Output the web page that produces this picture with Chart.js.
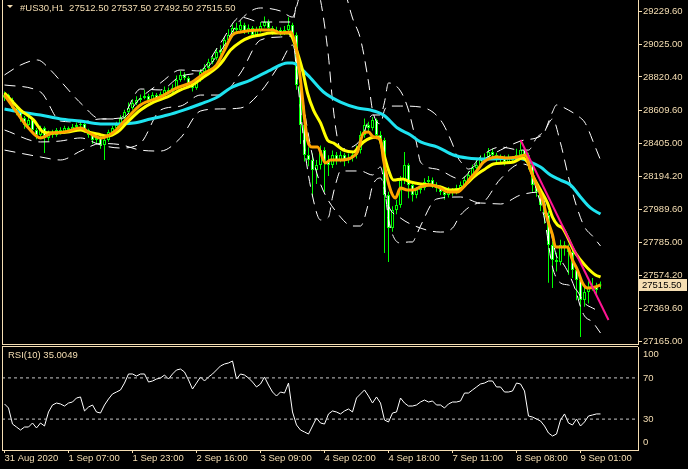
<!DOCTYPE html>
<html><head><meta charset="utf-8">
<script src="https://cdn.jsdelivr.net/npm/chart.js@4/dist/chart.umd.min.js"></script>
<style>
html,body{margin:0;padding:0;background:#000;overflow:hidden;}
#wrap{position:relative;width:688px;height:469px;background:#000;}
canvas{display:block;}
</style></head><body>
<div id="wrap">
<div style="position:absolute;left:0;top:0;width:688px;height:346px"><canvas id="main" width="688" height="346"></canvas></div>
<div style="position:absolute;left:0;top:346px;width:688px;height:123px"><canvas id="rsi" width="688" height="123"></canvas></div>
</div>
<script>
// ---------------- DATA ----------------
const symbolTitle = '#US30,H1';
const lastOHLC = [27512.50, 27537.50, 27492.50, 27515.50];
const rsiTitle = 'RSI(10) 35.0049';

const xTickBars = [0,16,32,48,64,80,96,112,128,144];
const xTickLabels = ['31 Aug 2020','1 Sep 07:00','1 Sep 23:00','2 Sep 16:00','3 Sep 09:00','4 Sep 02:00','4 Sep 18:00','7 Sep 11:00','8 Sep 08:00','9 Sep 01:00'];
const priceTicks = [29229.60,29025.00,28820.40,28609.60,28405.00,28194.20,27989.60,27785.00,27574.20,27369.60,27165.00];
const rsiLevels = [100,70,30,0];

const opens = [28690,28707,28676,28626,28601,28563,28519,28551,28488,28457, 28500,28438,28469,28457,28488,28475,28500,28488,28507,28519, 28526,28488,28457,28425,28438,28394,28425,28475,28500,28519, 28563,28601,28626,28657,28676,28689,28701,28676,28707,28689, 28714,28739,28726,28751,28801,28833,28814,28770,28751,28801, 28852,28877,28914,28939,28977,28990,29052,29084,29127,29115, 29146,29102,29127,29084,29115,29140,29165,29127,29102,29115, 29096,29115,29146,29084,28770,28519,28331,28300,28237,28268, 28362,28287,28268,28331,28300,28331,28300,28312,28331,28362, 28457,28519,28500,28551,28457,28425,28080,27873,27986,28018, 28174,28268,28143,28080,28112,28124,28162,28174,28143,28124, 28099,28080,28112,28099,28124,28143,28174,28206,28250,28268, 28300,28312,28350,28331,28300,28312,28287,28312,28300,28331, 28362,28331,28268,28143,28099,28018,27955,27767,27673,27660, 27767,27748,27723,27610,27547,27422,27472,27497,27510,27512.5];
const highs = [28730,28715,28690,28640,28615,28575,28570,28560,28500,28515, 28510,28485,28490,28500,28505,28515,28510,28525,28535,28545, 28535,28495,28470,28455,28450,28440,28490,28515,28540,28580, 28615,28660,28680,28700,28710,28740,28715,28725,28720,28730, 28760,28755,28775,28830,28860,28850,28825,28790,28815,28870, 28900,28935,28960,29000,29020,29075,29120,29150,29160,29175, 29160,29150,29140,29135,29165,29200,29180,29140,29135,29130, 29140,29195,29160,29100,28800,28560,28380,28340,28300,28390, 28380,28330,28360,28350,28355,28345,28340,28350,28390,28480, 28560,28540,28570,28560,28480,28440,28100,28010,28050,28200, 28350,28280,28160,28130,28150,28185,28200,28190,28160,28140, 28120,28130,28125,28145,28165,28200,28230,28270,28300,28330, 28340,28375,28370,28345,28335,28330,28335,28325,28370,28420, 28380,28345,28280,28170,28120,28040,27980,27790,27720,27800, 27790,27770,27740,27630,27560,27500,27540,27560,27530,27537.5];
const lows = [28670,28660,28610,28580,28540,28495,28505,28470,28430,28440, 28344,28420,28440,28445,28460,28465,28470,28478,28495,28500, 28470,28440,28400,28405,28370,28300,28415,28462,28490,28510, 28550,28590,28615,28645,28660,28680,28660,28665,28670,28680, 28700,28710,28715,28740,28790,28800,28750,28730,28740,28790, 28840,28865,28900,28925,28960,28980,29040,29070,29095,29100, 29090,29090,29070,29075,29100,29130,29110,29085,29090,29080, 29085,29105,29050,28740,28400,28290,28260,28068,28150,28240, 28100,28200,28250,28270,28285,28260,28280,28290,28310,28340, 28440,28470,28485,28430,28390,27717,27660,27850,27960,28000, 28150,28060,28040,28060,28090,28110,28140,28125,28100,28080, 28050,28065,28075,28085,28110,28130,28160,28195,28235,28255, 28285,28300,28310,28280,28285,28265,28275,28280,28290,28320, 28310,28240,28100,28070,27980,27900,27530,27497,27600,27640, 27700,27580,27560,27420,27190,27380,27400,27480,27460,27492.5];
const closes = [28707,28676,28626,28601,28563,28519,28551,28488,28457,28500, 28438,28469,28457,28488,28475,28500,28488,28507,28519,28526, 28488,28457,28425,28438,28394,28425,28475,28500,28519,28563, 28601,28626,28657,28676,28689,28701,28676,28707,28689,28714, 28739,28726,28751,28801,28833,28814,28770,28751,28801,28852, 28877,28914,28939,28977,28990,29052,29084,29127,29115,29146, 29102,29127,29084,29115,29140,29165,29127,29102,29115,29096, 29115,29146,29084,28770,28519,28331,28300,28237,28268,28362, 28287,28268,28331,28300,28331,28300,28312,28331,28362,28457, 28519,28500,28551,28457,28425,28080,27873,27986,28018,28174, 28268,28143,28080,28112,28124,28162,28174,28143,28124,28099, 28080,28112,28099,28124,28143,28174,28206,28250,28268,28300, 28312,28350,28331,28300,28312,28287,28312,28300,28331,28362, 28331,28268,28143,28099,28018,27955,27767,27673,27660,27767, 27748,27723,27610,27547,27422,27472,27497,27510,27485,27515.5];

// indicator lines: [bar index, price]
const maFast = [[0,28707],[3,28601],[6,28500],[9,28438],[12,28469],[15,28475],[19,28500],[22,28457],[24,28438],[27,28469],[30,28544],[34,28645],[39,28695],[43,28751],[46.5,28783],[50,28845],[53,28895],[55,28990],[57,29084],[59,29102],[64,29115],[67,29115],[69,29096],[71.5,29102],[73,28990],[74,28801],[75.75,28425],[77,28381],[78.25,28381],[80.25,28281],[81.5,28300],[84,28300],[86.5,28312],[88.25,28350],[89.75,28469],[91,28475],[92.25,28444],[94,28425],[94.75,28300],[96.5,28112],[97.75,28062],[99,28124],[100.75,28112],[102.25,28112],[104,28131],[106.5,28143],[109,28124],[110.75,28099],[113.25,28099],[114.75,28131],[116.5,28187],[118.25,28237],[119.75,28287],[121.5,28312],[123.25,28319],[125.75,28312],[128.25,28319],[130.25,28331],[131.5,28237],[133.25,28131],[134.5,28049],[135.75,27924],[137,27830],[137.75,27754],[140.75,27754],[142,27673],[143.25,27610],[144.5,27529],[145.75,27497],[147.75,27504],[149,27516]];
const maMid = [[0,28720],[4,28613],[7.25,28551],[9.75,28475],[12.25,28469],[15.75,28475],[19,28488],[20.75,28475],[23.25,28463],[25.75,28450],[28.25,28475],[30.75,28538],[34,28613],[37.25,28663],[40.75,28695],[44,28739],[47,28770],[49.75,28820],[53.25,28883],[54.75,28927],[56.5,28990],[59,29040],[61.5,29071],[64,29084],[66.5,29096],[69,29096],[71,29096],[72,29065],[73.25,28971],[74.5,28864],[75.75,28720],[77.25,28613],[79,28532],[80.75,28425],[82.25,28406],[84.75,28362],[87.25,28350],[88.5,28381],[89.75,28413],[91.5,28438],[93.5,28444],[94.75,28344],[96,28237],[97.25,28174],[99.5,28181],[101.5,28162],[104,28149],[106.5,28143],[109,28131],[111.5,28112],[114,28118],[115.75,28156],[117.25,28193],[119.75,28237],[122.25,28275],[124.75,28281],[127.25,28287],[129.5,28312],[130.75,28287],[132.25,28193],[134,28112],[135.75,28030],[137,27942],[138.25,27892],[139.5,27873],[140.75,27817],[142.25,27735],[144,27673],[145.75,27623],[147.75,27579],[149,27566]];
const maSlow = [[0,28620],[4,28601],[9,28582],[14,28557],[19,28544],[24,28526],[26.5,28526],[32.25,28532],[36.5,28557],[40.75,28582],[44.75,28613],[49,28651],[53.25,28695],[56.5,28751],[61.5,28801],[66.5,28864],[70.75,28908],[72,28908],[75.75,28833],[79.75,28726],[84,28663],[88.25,28626],[91.5,28613],[94.75,28582],[98.25,28500],[101.5,28457],[104,28413],[108.25,28381],[112.25,28331],[115.75,28312],[120.75,28306],[128.25,28312],[131.5,28287],[134,28256],[136.5,28206],[139,28174],[141.5,28143],[144,28068],[146.5,27999],[149,27961]];

const bandWideUpper = [[0,28833],[4,28895],[8.25,28927],[11.5,28864],[14,28795],[19.5,28645],[24,28557],[29,28557],[34,28689],[39,28783],[44,28864],[49,28858],[54,28983],[59,29178],[64,29253],[69,29234],[72,29196],[73,29259],[74,29359],[75,29460],[77,29579],[79,29579],[84,29447],[87,29190],[89,29058],[91,28789],[92,28613],[94,28526],[95,28613],[96,28638],[99,28638],[104,28632],[109,28551],[112,28400],[113,28331],[115,28262],[116,28243],[119,28293],[124,28362],[129,28419],[134,28450],[135,28475],[136,28538],[137,28601],[138,28645],[139,28638],[141,28613],[143,28582],[145,28538],[146,28488],[147,28425],[148,28362],[149,28300]];
const bandWideLower = [[0,28362],[9,28319],[14,28300],[19.5,28362],[24,28403],[29,28396],[34,28362],[39,28356],[44,28438],[49,28607],[54,28620],[59,28626],[64,28726],[69,28908],[72,29021],[73,28933],[74,28776],[75,28607],[77,28325],[79,28149],[84,27942],[87,27886],[89,27886],[91,28030],[92,28137],[94,28187],[96,28011],[99,27936],[104,27873],[109,27848],[112,27873],[114,27955],[119,28030],[124,28024],[129,28080],[134,28099],[135,28036],[136,27924],[137,27804],[138,27698],[139,27673],[141,27591],[143,27466],[144,27378],[145,27322],[147,27284],[149,27215]];
const bandNarrowUpper = [[0,28770],[9,28726],[14,28544],[19,28538],[24,28557],[29,28563],[34,28745],[39,28739],[44,28826],[49,28858],[54,29033],[59,29196],[64,29165],[69,29165],[72,29165],[73,29284],[74,29428],[75,29504],[77,29479],[79,29303],[81,28946],[82,28670],[83,28469],[84,28369],[89,28425],[92,28582],[94,28582],[95,28663],[96,28783],[99,28732],[101,28613],[102,28513],[103,28406],[104,28287],[108,28243],[114,28181],[119,28319],[124,28381],[129,28362],[131,28362],[133,28438],[135,28482],[137,28557],[139,28406],[141,28193],[143,28011],[145,27880],[147,27823],[149,27761]];
const bandNarrowLower = [[0,28488],[9,28413],[14,28419],[19,28438],[24,28394],[29,28375],[34,28406],[39,28613],[44,28638],[49,28707],[54,28707],[59,28845],[64,29052],[69,29071],[72,29077],[73,28858],[74,28620],[75,28375],[77,28074],[79,27924],[81,27942],[82,28068],[83,28168],[84,28231],[89,28231],[92,28206],[94,28256],[95,28137],[96,27930],[99,27779],[101,27786],[102,27786],[103,27830],[104,27886],[108,28055],[114,28068],[119,28030],[124,28181],[129,28275],[131,28262],[133,28112],[135,27930],[137,27629],[139,27529],[141,27516],[143,27484],[145,27403],[147,27372],[149,27347]];
const trendLine = [[129,28425],[151,27297]];

const rsiValues = [44.7,40.8,25.2,22.3,19.4,22.3,22.3,26.2,21.4,26.2, 23.3,36.9,43.7,45.6,44.7,42.7,45.6,46.6,50.5,51.5, 37.9,41.7,43.7,36.9,35.9,43.7,49.5,54.4,56.3,58.3, 65.0,73.8,73.8,71.8,73.8,73.8,66.0,67.0,68.9,69.9, 72.8,68.9,73.8,77.7,78.6,75.7,68.0,59.2,65.0,70.9, 67.0,70.9,73.8,77.7,81.6,83.5,84.5,86.4,68.9,73.8, 72.8,69.9,66.0,61.2,64.1,70.9,63.1,56.3,52.4,56.3, 55.3,65.0,36.9,24.3,19.4,17.5,15.5,23.3,31.1,26.2, 25.2,35.0,37.9,36.9,35.0,37.9,39.8,36.9,50.5,54.4, 58.3,52.4,45.6,51.5,45.6,29.1,27.2,35.9,36.9,50.5, 45.6,42.7,42.7,43.7,46.6,48.5,46.6,47.6,43.7,43.7, 40.8,44.7,46.6,46.6,47.6,55.3,55.3,58.3,61.2,64.1, 65.0,67.0,67.0,61.2,61.2,56.3,56.3,57.3,65.0,64.1, 57.3,33.0,32.0,30.1,28.2,23.3,16.5,13.6,15.5,29.1, 35.0,26.2,24.3,30.1,23.3,27.2,33.0,34.0,35.0,35.0049];

// ---------------- STYLE ----------------
const FG = '#f5deb3';
const FONTFAM = "'Liberation Sans', Arial, sans-serif";
const FONT = {family: FONTFAM, size: 9.5};
const X_MIN = -0.625, X_MAX = 158.375;
Chart.defaults.font.family = FONTFAM;
Chart.defaults.animation = false;

const toPts = arr => arr.map(p => ({x: p[0], y: p[1]}));
const bandStyle = { type: 'line', borderColor: '#ffffff', borderWidth: 1, borderDash: [11,7], pointRadius: 0, cubicInterpolationMode: 'monotone', order: 15 };

const framePlugin = {
  id: 'frame',
  afterDraw(chart, args, opts) {
    const {ctx, chartArea: a} = chart;
    ctx.save();
    ctx.strokeStyle = FG; ctx.lineWidth = 1;
    ctx.beginPath();
    ctx.moveTo(Math.round(a.left) + 0.5, 0);
    ctx.lineTo(Math.round(a.left) + 0.5, Math.round(a.bottom) + 0.5);
    if (opts.bottom) { ctx.moveTo(Math.round(a.left), Math.round(a.bottom) + 0.5); ctx.lineTo(Math.round(a.right), Math.round(a.bottom) + 0.5); }
    if (opts.top) { ctx.moveTo(Math.round(a.left), 0.5); ctx.lineTo(Math.round(a.right), 0.5); }
    ctx.stroke();
    ctx.restore();
  }
};

const mainTextPlugin = {
  id: 'mainText',
  afterDraw(chart) {
    const {ctx} = chart;
    ctx.save();
    ctx.fillStyle = FG;
    ctx.beginPath(); ctx.moveTo(7,5); ctx.lineTo(13,5); ctx.lineTo(10,8); ctx.closePath(); ctx.fill();
    ctx.font = '9.5px ' + FONTFAM;
    ctx.textBaseline = 'middle';
    ctx.fillText(symbolTitle + '  ' + lastOHLC.map(v => v.toFixed(2)).join(' '), 20, 8);
    const ys = chart.scales.y;
    const last = closes[closes.length - 1];
    const py = Math.round(ys.getPixelForValue(last));
    ctx.fillStyle = FG;
    ctx.fillRect(639, py - 6, 48, 12);
    ctx.fillStyle = '#000';
    ctx.fillText(last.toFixed(2), 642, py);
    ctx.restore();
  }
};

const bodyColors = closes.map((c, i) => c >= opens[i] ? '#000000' : '#ffffff');

new Chart(document.getElementById('main'), {
  type: 'bar',
  data: {
    datasets: [
      { type: 'bar', data: closes.map((c, i) => ({x: i, y: [lows[i], highs[i]]})), backgroundColor: '#00ff00', borderWidth: 0, barThickness: 1, grouped: false, order: 20, inflateAmount: 0 },
      { type: 'bar', data: closes.map((c, i) => ({x: i, y: [opens[i], c]})), backgroundColor: bodyColors, borderColor: '#00ff00', borderWidth: 1, borderSkipped: false, barThickness: 3, grouped: false, minBarLength: 1, order: 19, inflateAmount: 0 },
      Object.assign({ data: toPts(bandWideUpper) }, bandStyle),
      Object.assign({ data: toPts(bandWideLower) }, bandStyle),
      Object.assign({ data: toPts(bandNarrowUpper) }, bandStyle),
      Object.assign({ data: toPts(bandNarrowLower) }, bandStyle),
      { type: 'line', data: toPts(maSlow), borderColor: '#1ee3f0', borderWidth: 3, pointRadius: 0, cubicInterpolationMode: 'monotone', order: 6 },
      { type: 'line', data: toPts(maMid), borderColor: '#ffff00', borderWidth: 3, pointRadius: 0, cubicInterpolationMode: 'monotone', order: 5 },
      { type: 'line', data: toPts(maFast), borderColor: '#ffa500', borderWidth: 3, pointRadius: 0, cubicInterpolationMode: 'monotone', order: 4 },
      { type: 'line', data: toPts(trendLine), borderColor: '#ff1493', borderWidth: 2, pointRadius: 0, order: 3 }
    ]
  },
  options: {
    responsive: false, animation: false, devicePixelRatio: 1,
    layout: { padding: { left: 2, top: 0, right: 0, bottom: 2 } },
    plugins: { legend: { display: false }, tooltip: { enabled: false }, frame: { bottom: true } },
    scales: {
      x: { type: 'linear', min: X_MIN, max: X_MAX, display: false, offset: false },
      y: {
        type: 'linear', position: 'right', min: 27146.2, max: 29303,
        afterBuildTicks: s => { s.ticks = priceTicks.map(v => ({value: v})); },
        afterFit: s => { s.width = 50; s.paddingTop = 0; s.paddingBottom = 0; },
        ticks: { color: FG, font: FONT, padding: 1, callback: v => Number(v).toFixed(2) },
        grid: { drawOnChartArea: false, drawTicks: true, tickLength: 4, color: FG },
        border: { display: true, color: FG, width: 1 }
      }
    }
  },
  plugins: [framePlugin, mainTextPlugin]
});

const rsiTextPlugin = {
  id: 'rsiText',
  afterDraw(chart) {
    const {ctx, chartArea: a} = chart;
    const ys = chart.scales.y;
    ctx.save();
    ctx.font = '9.5px ' + FONTFAM;
    ctx.textBaseline = 'middle';
    ctx.fillStyle = FG;
    rsiLevels.forEach(v => {
      let y = ys.getPixelForValue(v);
      y = Math.min(Math.max(y, a.top + 7), a.bottom - 8);
      ctx.fillText(String(v), 643, y);
    });
    ctx.fillText(rsiTitle, 8, 9);
    ctx.restore();
  }
};

new Chart(document.getElementById('rsi'), {
  type: 'line',
  data: {
    datasets: [
      { data: [{x: X_MIN, y: 70}, {x: X_MAX, y: 70}], borderColor: '#c8c8c8', borderWidth: 1, borderDash: [3,3], pointRadius: 0 },
      { data: [{x: X_MIN, y: 30}, {x: X_MAX, y: 30}], borderColor: '#c8c8c8', borderWidth: 1, borderDash: [3,3], pointRadius: 0 },
      { data: rsiValues.map((v, i) => ({x: i, y: v})), borderColor: '#ffffff', borderWidth: 1, pointRadius: 0, tension: 0 }
    ]
  },
  options: {
    responsive: false, animation: false, devicePixelRatio: 1,
    layout: { padding: { left: 2, top: 1, right: 0, bottom: 0 } },
    plugins: { legend: { display: false }, tooltip: { enabled: false }, frame: { top: true } },
    scales: {
      x: {
        type: 'linear', min: X_MIN, max: X_MAX, position: 'bottom', offset: false,
        afterBuildTicks: s => { s.ticks = xTickBars.map(v => ({value: v})); },
        afterFit: s => { s.height = 19; s.paddingLeft = 0; s.paddingRight = 0; },
        ticks: { color: FG, font: FONT, padding: 0, align: 'start', maxRotation: 0, autoSkip: false,
                 callback: (v, i) => xTickLabels[i] },
        grid: { drawOnChartArea: false, drawTicks: true, tickLength: 3, color: FG },
        border: { display: true, color: FG, width: 1 }
      },
      y: {
        type: 'linear', position: 'right', min: 0, max: 100,
        afterFit: s => { s.width = 50; s.paddingTop = 0; s.paddingBottom = 0; },
        ticks: { display: false },
        grid: { drawOnChartArea: false, drawTicks: false },
        border: { display: true, color: FG, width: 1 }
      }
    }
  },
  plugins: [framePlugin, rsiTextPlugin]
});
</script>
</body></html>
